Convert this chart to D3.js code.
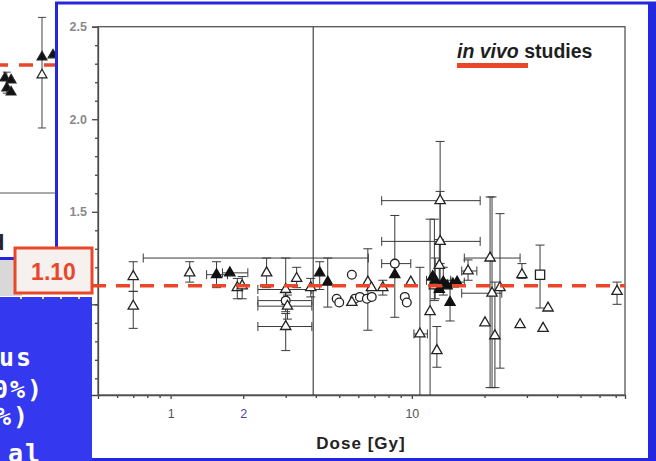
<!DOCTYPE html>
<html>
<head>
<meta charset="utf-8">
<script src="https://cdn.jsdelivr.net/npm/d3@7"></script>
<style>
  html, body { margin: 0; padding: 0; background: #fff; }
  svg { display: block; }
</style>
</head>
<body>
<svg id="chart" width="656" height="461"></svg>
<script>
// ---- RBE vs dose, in vivo studies ----
// rows: [dose (Gy), RBE, doseLow, doseHigh, rbeLow, rbeHigh]
const openTriangles = [
  [0.70, 1.15, null, null, 1.07, 1.23],
  [0.70, 0.99, null, null, 0.87, 1.07],
  [1.20, 1.17, null, null, 1.12, 1.23],
  [1.89, 1.09, null, null, 1.03, 1.14],
  [1.98, 1.10, null, null, 1.03, 1.15],
  [2.50, 1.17, null, null, 1.09, 1.25],
  [3.00, 1.08, 2.30, 3.85, 1.00, 1.25],
  [3.05, 0.99, 2.30, 3.85, 0.92, 1.05],
  [3.00, 0.88, 2.30, 3.85, 0.75, 0.95],
  [3.33, 1.14, null, null, 1.09, 1.20],
  [3.81, 1.09, null, null, 1.04, 1.14],
  [5.64, 1.01, null, null, null, null],
  [6.57, 1.12, null, null, 0.86, 1.30],
  [6.80, 1.09, null, null, null, null],
  [7.58, 1.09, null, null, 1.05, 1.13],
  [9.90, 1.12, null, null, null, null],
  [10.8, 0.84, 10.2, 11.6, 0.45, 1.20],
  [11.9, 0.96, null, null, 0.45, 1.46],
  [12.4, 1.10, null, null, 1.02, 1.46],
  [12.7, 0.75, null, null, 0.66, 0.88],
  [13.0, 1.21, null, null, 1.10, 1.35],
  [13.1, 1.34, 7.50, 19.2, 1.12, 1.61],
  [13.1, 1.56, 7.50, 19.2, 1.22, 1.88],
  [17.1, 1.18, 16.1, 18.6, 1.13, 1.24],
  [20.1, 0.90, null, null, null, null],
  [21.1, 1.25, 16.5, 28.1, 0.55, 1.58],
  [21.5, 1.06, 16.1, 23.6, 0.55, 1.58],
  [22.1, 0.83, null, null, 0.55, 1.12],
  [23.2, 1.09, null, null, 0.655, 1.49],
  [28.1, 0.89, null, null, null, null],
  [28.6, 1.16, null, null, 1.14, 1.22],
  [35.0, 0.87, null, null, null, null],
  [36.7, 0.98, null, null, null, null],
  [70.9, 1.07, null, null, 1.00, 1.12]
];
const filledTriangles = [
  [1.55, 1.16, 1.41, 1.72, 1.09, 1.23],
  [1.76, 1.17, 1.64, 2.09, null, null],
  [4.15, 1.17, null, null, 1.08, 1.23],
  [4.48, 1.12, null, null, 0.985, 1.25],
  [8.50, 1.16, null, null, null, null],
  [12.2, 1.15, null, null, null, null],
  [12.5, 1.13, 11.5, 14.5, 1.03, 1.25],
  [13.0, 1.08, null, null, null, null],
  [13.5, 1.12, null, null, 1.05, 1.20],
  [14.0, 1.10, null, null, null, null],
  [14.8, 1.11, null, null, null, null],
  [15.4, 1.12, 14.5, 16.5, null, null],
  [14.4, 1.01, null, null, 0.91, 1.10]
];
const openCircles = [
  [3.00, 1.02, 2.30, 3.85, 0.96, 1.08],
  [4.88, 1.03, null, null, null, null],
  [5.00, 1.01, null, null, null, null],
  [5.64, 1.16, null, null, null, null],
  [5.80, 1.03, null, null, null, null],
  [6.09, 1.04, null, null, null, null],
  [6.51, 1.03, null, null, null, null],
  [6.82, 1.04, null, null, null, null],
  [8.50, 1.22, 7.50, 9.90, 0.93, 1.48],
  [9.35, 1.04, null, null, null, null],
  [9.53, 1.01, null, null, null, null]
];
const openSquares = [
  [34.0, 1.16, null, null, 0.98, 1.32]
];
// dose interval reported without a central marker
const doseRanges = [
  [1.75, 1.25, 0.77, 6.6, null, null]
];

const referenceRBE = 1.10;
const referenceRBELabel = "1.10";
const referenceDose = 3.9;

const yTickValues = [1.5, 2.0, 2.5];
const yTickLabels = ["1.5", "2.0", "2.5"];
const yMinorTicks = [0.6, 0.7, 0.8, 0.9, 1.0, 1.1, 1.2, 1.3, 1.4, 1.6, 1.7, 1.8, 1.9, 2.1, 2.2, 2.3, 2.4];
const xTickValues = [1, 2, 10];
const xTickLabels = ["1", "2", "10"];
const xMinorTicks = [0.6, 0.7, 0.8, 0.9, 3, 4, 5, 6, 7, 8, 9, 20, 30, 40, 50, 60, 70];

const titleItalic = "in vivo";
const titleRest = " studies";
const xTitle = "Dose [Gy]";

// panel behind: [dose, RBE, rbeLow, rbeHigh, filled]
const backPoints = [
  [4.42, 1.049, null, null, 1],
  [4.69, 1.041, null, null, 1],
  [4.50, 1.010, 0.990, 1.072, 1],
  [4.69, 0.994, null, null, 1],
  [6.31, 1.131, 0.854, 1.286, 1],
  [6.31, 1.061, null, null, 0],
  [7.01, 1.139, null, null, 1]
];
const sideBoxLines = ["us", "0%)", "%)", "al"];

// ---- drawing ----
const svg = d3.select("#chart");
const FONT = "'Liberation Sans', Arial, Helvetica, sans-serif";
const BLUE = "#2327e0";
const RED = "#e8472a";

const x = d3.scaleLog().domain([0.5, 76.5]).range([98, 625]);
const y = d3.scaleLinear().domain([0.51, 2.5]).range([395, 26.7]);

const rows = arr => arr.map(r => ({dose: r[0], rbe: r[1], dLo: r[2], dHi: r[3], rLo: r[4], rHi: r[5]}));

// panel in the background (left)
const backX = d3.scaleLog().domain([1, 10]).range([-150, 90]);
const backY = d3.scaleLinear().domain([0.6, 1.3]).range([193, 13.8]);
const back = svg.append("g");
back.append("rect").attr("x", 0).attr("y", 0).attr("width", 60).attr("height", 258).attr("fill", "#fff");
back.append("line").attr("x1", 0).attr("x2", 56).attr("y1", backY(0.6)).attr("y2", backY(0.6))
  .attr("stroke", "#555").attr("stroke-width", 1);
const bp = backPoints.map(r => ({dose: r[0], rbe: r[1], lo: r[2], hi: r[3], filled: r[4]}));
back.selectAll("line.bv").data(bp.filter(d => d.lo != null)).join("line")
  .attr("x1", d => backX(d.dose)).attr("x2", d => backX(d.dose))
  .attr("y1", d => backY(d.lo)).attr("y2", d => backY(d.hi))
  .attr("stroke", "#444").attr("stroke-width", 1);
back.selectAll("line.bc").data(bp.filter(d => d.lo != null).flatMap(d => [[d.dose, d.lo], [d.dose, d.hi]])).join("line")
  .attr("x1", d => backX(d[0]) - 4).attr("x2", d => backX(d[0]) + 4)
  .attr("y1", d => backY(d[1])).attr("y2", d => backY(d[1]))
  .attr("stroke", "#444").attr("stroke-width", 1);
back.selectAll("path.bm").data(bp).join("path")
  .attr("d", d3.symbol().type(d3.symbolTriangle).size(42))
  .attr("transform", d => `translate(${backX(d.dose)},${backY(d.rbe)})`)
  .attr("fill", d => d.filled ? "#111" : "#fff").attr("stroke", "#222").attr("stroke-width", 1.2);
back.append("line").attr("x1", 0).attr("x2", 56).attr("y1", backY(referenceRBE)).attr("y2", backY(referenceRBE))
  .attr("stroke", RED).attr("stroke-width", 3.5).attr("stroke-dasharray", "14 11").attr("stroke-dashoffset", 6);
back.append("text").attr("x", -9).attr("y", 250).attr("font-family", FONT).attr("font-weight", "bold")
  .attr("font-size", 22).attr("fill", "#222").text("d");

// main panel
svg.append("rect").attr("x", 57).attr("y", 4).attr("width", 592).attr("height", 454).attr("fill", "#fff");
svg.append("line").attr("x1", 55).attr("x2", 656).attr("y1", 3).attr("y2", 3).attr("stroke", BLUE).attr("stroke-width", 3);
svg.append("line").attr("x1", 56.5).attr("x2", 56.5).attr("y1", 2).attr("y2", 259).attr("stroke", BLUE).attr("stroke-width", 3);
svg.append("rect").attr("x", 648).attr("y", 2).attr("width", 8).attr("height", 459).attr("fill", BLUE);
svg.append("line").attr("x1", 92).attr("x2", 656).attr("y1", 459.5).attr("y2", 459.5).attr("stroke", BLUE).attr("stroke-width", 3);
svg.append("line").attr("x1", 0).attr("x2", 58).attr("y1", 258.5).attr("y2", 258.5).attr("stroke", BLUE).attr("stroke-width", 3);
svg.append("rect").attr("x", 0).attr("y", 260).attr("width", 22).attr("height", 36).attr("fill", "#d8d8d8");

// plot area
const plot = svg.append("g");
svg.append("defs").append("clipPath").attr("id", "plotClip")
  .append("rect").attr("x", 98).attr("y", 26.7).attr("width", 527).attr("height", 368.3);

// y axis
const yAxis = plot.append("g").attr("transform", "translate(98,0)")
  .call(d3.axisLeft(y).tickValues(yTickValues).tickSize(6).tickPadding(5)
    .tickFormat((d, i) => yTickLabels[i]));
plot.append("g").attr("transform", "translate(98,0)")
  .call(d3.axisLeft(y).tickValues(yMinorTicks).tickSize(3).tickFormat(""))
  .call(g => g.select(".domain").remove());
plot.append("g").attr("transform", "translate(98,0)")
  .call(d3.axisLeft(y).tickValues([1.0]).tickSize(6).tickFormat(""))
  .call(g => g.select(".domain").remove());
yAxis.selectAll("text").attr("font-family", FONT).attr("font-size", 12.5).attr("font-weight", "bold").attr("fill", "#8a8a8a");

// x axis
const xAxis = plot.append("g").attr("transform", "translate(0,395)")
  .call(d3.axisBottom(x).tickValues(xTickValues).tickSize(4).tickPadding(10)
    .tickFormat((d, i) => xTickLabels[i]));
plot.append("g").attr("transform", "translate(0,395)")
  .call(d3.axisBottom(x).tickValues(xMinorTicks).tickSize(3).tickFormat(""))
  .call(g => g.select(".domain").remove());
xAxis.selectAll("text").attr("font-family", FONT).attr("font-size", 12.5).attr("fill", "#555");
xAxis.selectAll("text").filter(d => d === 2).attr("fill", "#4a4aa8");
plot.selectAll(".domain, .tick line").attr("stroke", "#444").attr("stroke-width", 1.3);

// frame
plot.append("rect").attr("x", 98).attr("y", 26.7).attr("width", 527).attr("height", 368.3)
  .attr("fill", "none").attr("stroke", "#555").attr("stroke-width", 1.3);

const data = plot.append("g").attr("clip-path", "url(#plotClip)");

// reference dose line
data.append("line").attr("x1", x(referenceDose)).attr("x2", x(referenceDose))
  .attr("y1", y(2.5)).attr("y2", y(0.51)).attr("stroke", "#333").attr("stroke-width", 1.1);

// error bars
const all = [].concat(rows(openTriangles), rows(filledTriangles), rows(openCircles), rows(openSquares), rows(doseRanges));
const vb = all.filter(d => d.rLo != null);
const hb = all.filter(d => d.dLo != null);
const eb = data.append("g").attr("stroke", "#3a3a3a").attr("stroke-width", 1);
eb.selectAll("line.v").data(vb).join("line")
  .attr("x1", d => x(d.dose)).attr("x2", d => x(d.dose))
  .attr("y1", d => y(d.rLo)).attr("y2", d => y(d.rHi));
eb.selectAll("line.vc").data(vb.flatMap(d => [[d.dose, d.rLo], [d.dose, d.rHi]])).join("line")
  .attr("x1", d => x(d[0]) - 4.5).attr("x2", d => x(d[0]) + 4.5)
  .attr("y1", d => y(d[1])).attr("y2", d => y(d[1]));
eb.selectAll("line.h").data(hb).join("line")
  .attr("x1", d => x(d.dLo)).attr("x2", d => x(d.dHi))
  .attr("y1", d => y(d.rbe)).attr("y2", d => y(d.rbe));
eb.selectAll("line.hc").data(hb.flatMap(d => [[d.dLo, d.rbe], [d.dHi, d.rbe]])).join("line")
  .attr("x1", d => x(d[0])).attr("x2", d => x(d[0]))
  .attr("y1", d => y(d[1]) - 4.5).attr("y2", d => y(d[1]) + 4.5);

// markers
const tri = d3.symbol().type(d3.symbolTriangle).size(46);
data.append("g").selectAll("path").data(rows(openCircles)).join("path")
  .attr("d", d3.symbol().type(d3.symbolCircle).size(60))
  .attr("transform", d => `translate(${x(d.dose)},${y(d.rbe)})`)
  .attr("fill", "#fff").attr("stroke", "#222").attr("stroke-width", 1.3);
data.append("g").selectAll("path").data(rows(openSquares)).join("path")
  .attr("d", d3.symbol().type(d3.symbolSquare).size(85))
  .attr("transform", d => `translate(${x(d.dose)},${y(d.rbe)})`)
  .attr("fill", "#fff").attr("stroke", "#222").attr("stroke-width", 1.3);
data.append("g").selectAll("path").data(rows(openTriangles)).join("path")
  .attr("d", tri)
  .attr("transform", d => `translate(${x(d.dose)},${y(d.rbe)})`)
  .attr("fill", "#fff").attr("stroke", "#222").attr("stroke-width", 1.3);
data.append("g").selectAll("path").data(rows(filledTriangles)).join("path")
  .attr("d", tri)
  .attr("transform", d => `translate(${x(d.dose)},${y(d.rbe)})`)
  .attr("fill", "#111").attr("stroke", "#111").attr("stroke-width", 1.2);

// reference RBE line
svg.append("line").attr("x1", 92).attr("x2", 625).attr("y1", y(referenceRBE)).attr("y2", y(referenceRBE))
  .attr("stroke", RED).attr("stroke-width", 3.5).attr("stroke-dasharray", "14 10");

// title
const t = svg.append("text").attr("x", 457).attr("y", 58).attr("font-family", FONT)
  .attr("font-size", 19.5).attr("font-weight", "bold").attr("fill", "#1e1e1e");
t.append("tspan").attr("font-style", "italic").text(titleItalic);
t.append("tspan").text(titleRest);
svg.append("rect").attr("x", 457).attr("y", 63).attr("width", 71).attr("height", 5).attr("fill", RED);

// x title
svg.append("text").attr("x", 361).attr("y", 449).attr("text-anchor", "middle")
  .attr("font-family", FONT).attr("font-size", 17).attr("font-weight", "bold")
  .attr("letter-spacing", 1).attr("fill", "#222").text(xTitle);

// value box for the reference RBE
svg.append("rect").attr("x", 15).attr("y", 248).attr("width", 77).attr("height", 45)
  .attr("fill", "#f6f1ef").attr("stroke", RED).attr("stroke-width", 3);
svg.append("text").attr("x", 53.5).attr("y", 280).attr("text-anchor", "middle")
  .attr("font-family", FONT).attr("font-size", 23).attr("font-weight", "bold").attr("fill", RED).text(referenceRBELabel);

// side box
svg.append("rect").attr("x", 0).attr("y", 297).attr("width", 92).attr("height", 164).attr("fill", "#3438ee");
svg.append("g").selectAll("rect").data([20, 42, 60, 78]).join("rect")
  .attr("x", d => d).attr("y", 297).attr("width", 2).attr("height", 2).attr("fill", "#e6e35a");
const sideX = [-1, -7, -4, 8];
const sideY = [366, 398, 425, 462];
svg.append("g").selectAll("text").data(sideBoxLines).join("text")
  .attr("x", (d, i) => sideX[i]).attr("y", (d, i) => sideY[i])
  .attr("font-family", "'DejaVu Sans Mono', monospace").attr("font-weight", "bold")
  .attr("font-size", 25).attr("letter-spacing", 2).attr("fill", "#fff").text(d => d);
</script>
</body>
</html>
